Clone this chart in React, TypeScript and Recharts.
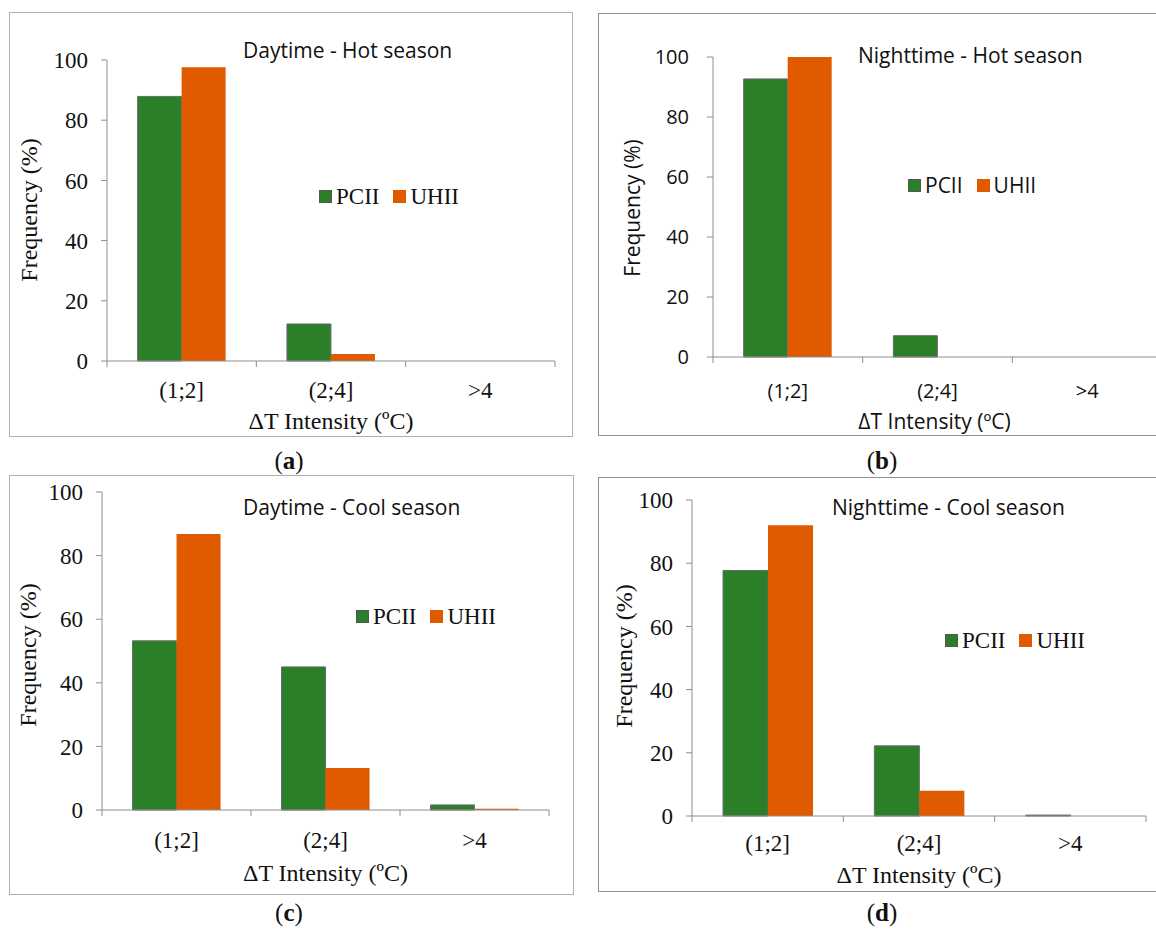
import React from 'react'
import { BarChart, Bar, XAxis, YAxis, Legend } from 'recharts'

// shared axes
const categories = ['(1;2]', '(2;4]', '>4']
const yTicks = [0, 20, 40, 60, 80, 100]

// frequency (%) per ΔT intensity class
const pciiDayHot = [87.9, 12.3, 0]
const uhiiDayHot = [97.6, 2.3, 0]
const pciiNightHot = [92.7, 7.1, 0]
const uhiiNightHot = [100, 0, 0]
const pciiDayCool = [53.2, 45.0, 1.6]
const uhiiDayCool = [86.8, 13.2, 0.4]
const pciiNightCool = [77.7, 22.2, 0.3]
const uhiiNightCool = [92.0, 8.0, 0]

const titles = ['Daytime - Hot season', 'Nighttime - Hot season', 'Daytime - Cool season', 'Nighttime - Cool season']
const captions = ['a', 'b', 'c', 'd']

const SERIF = '"Liberation Serif", "Times New Roman", serif'
const SANS = '"Open Sans", "Noto Sans", sans-serif'
const GREEN = '#2a7f28'
const ORANGE = '#e05a00'
const AXIS = '#8e8e8e'
const TEXT = '#111'

type Layout = {
  serif: boolean
  frameColor: string
  frame: { left: number; top: number; width: number; height: number }
  plot: { left: number; right: number; top: number; bottom: number }
  titlePos: [number, number]
  legendPos: [number, number]
  yLabelPos: [number, number]
  tickY: number
  axisTitleY: number
  captionPos: [number, number]
}

const layouts: Layout[] = [
  {
    serif: true, frameColor: '#b0b0b0',
    frame: { left: 9, top: 12, width: 564, height: 425 },
    plot: { left: 107, right: 555, top: 60, bottom: 361 },
    titlePos: [243, 50], legendPos: [319, 197], yLabelPos: [29, 210],
    tickY: 390, axisTitleY: 421, captionPos: [289, 460],
  },
  {
    serif: false, frameColor: '#8f8f8f',
    frame: { left: 598, top: 13, width: 600, height: 423 },
    plot: { left: 713, right: 1162, top: 57, bottom: 357 },
    titlePos: [858, 55], legendPos: [908, 187], yLabelPos: [632, 208],
    tickY: 390, axisTitleY: 421, captionPos: [882, 460],
  },
  {
    serif: true, frameColor: '#b0b0b0',
    frame: { left: 9, top: 475, width: 565, height: 420 },
    plot: { left: 102, right: 549, top: 492, bottom: 810 },
    titlePos: [243, 507], legendPos: [356, 617], yLabelPos: [28, 655],
    tickY: 840, axisTitleY: 873, captionPos: [289, 912],
  },
  {
    serif: true, frameColor: '#8f8f8f',
    frame: { left: 598, top: 477, width: 600, height: 415 },
    plot: { left: 692, right: 1146, top: 500, bottom: 816 },
    titlePos: [832, 507], legendPos: [945, 641], yLabelPos: [624, 656],
    tickY: 843, axisTitleY: 875, captionPos: [882, 912],
  },
]

const seriesSets = [
  [pciiDayHot, uhiiDayHot],
  [pciiNightHot, uhiiNightHot],
  [pciiDayCool, uhiiDayCool],
  [pciiNightCool, uhiiNightCool],
]

function Panel({ index }: { index: number }) {
  const l = layouts[index]
  const [pcii, uhii] = seriesSets[index]
  const font = l.serif ? SERIF : SANS
  const fontSize = l.serif ? 23 : 20
  const labelSize = l.serif ? 24 : 21
  const { frame, plot } = l
  const data = categories.map((name, i) => ({ name, PCII: pcii[i], UHII: uhii[i] }))

  const xAxisHeight = 30
  const margin = {
    top: plot.top - frame.top,
    right: frame.left + frame.width - plot.right,
    left: 0,
    bottom: frame.top + frame.height - plot.bottom - xAxisHeight,
  }
  const half = (plot.right - plot.left) / categories.length / 2
  const axisY = plot.bottom - frame.top

  // Excel style: tick marks sit on category boundaries
  const renderTick = (props: any) => {
    const { x, payload, index: i } = props
    const cx = payload && typeof payload.coordinate === 'number' ? payload.coordinate : x
    return (
      <g key={`t-${i}`}>
        <line x1={cx - half} x2={cx - half} y1={axisY} y2={axisY + 6} stroke={AXIS} />
        {i === categories.length - 1 && (
          <line x1={cx + half} x2={cx + half} y1={axisY} y2={axisY + 6} stroke={AXIS} />
        )}
        <text x={cx} y={axisY + (l.tickY - plot.bottom)} textAnchor="middle" dominantBaseline="central"
          fill={TEXT} fontFamily={font} fontSize={fontSize}>
          {payload.value}
        </text>
      </g>
    )
  }

  const renderLegend = (props: any) => (
    <div style={{ display: 'flex', alignItems: 'center', fontFamily: font, fontSize: l.serif ? 23 : 21, color: TEXT, whiteSpace: 'nowrap', lineHeight: 1 }}>
      {(props.payload || []).map((item: any, i: number) => (
        <div key={item.value} style={{ display: 'flex', alignItems: 'center', marginLeft: i ? 14 : 0 }}>
          <span style={{ display: 'inline-block', width: 13, height: 13, background: item.color, marginRight: 4, boxSizing: 'border-box', border: i === 0 ? '1px solid #555' : 'none' }} />
          <span>{item.value}</span>
        </div>
      ))}
    </div>
  )

  const textBase: React.CSSProperties = { position: 'absolute', whiteSpace: 'nowrap', lineHeight: 1, color: TEXT }

  return (
    <>
      <div style={{ position: 'absolute', left: frame.left, top: frame.top, width: frame.width, height: frame.height, border: `1px solid ${l.frameColor}`, boxSizing: 'border-box' }} />
      <div style={{ position: 'absolute', left: frame.left, top: frame.top }}>
        <BarChart width={frame.width} height={frame.height} data={data} margin={margin} barCategoryGap="20.5%" barGap={0}>
          <XAxis dataKey="name" height={xAxisHeight} interval={0} axisLine={{ stroke: AXIS }} tickLine={false} tick={renderTick} />
          <YAxis width={plot.left - frame.left} domain={[0, 100]} ticks={yTicks} interval={0}
            axisLine={{ stroke: AXIS }} tickLine={{ stroke: AXIS }} tickSize={6} tickMargin={l.serif ? 13 : 18}
            tick={{ fill: TEXT, fontFamily: font, fontSize }} />
          <Legend verticalAlign="middle" align="center" layout="horizontal" content={renderLegend}
            wrapperStyle={{ left: l.legendPos[0] - frame.left, top: l.legendPos[1] - frame.top - 12, width: 'auto', height: 24 }} />
          <Bar dataKey="PCII" fill={GREEN} stroke="#6a6a6a" strokeWidth={1} isAnimationActive={false} />
          <Bar dataKey="UHII" fill={ORANGE} isAnimationActive={false} />
        </BarChart>
      </div>
      <div style={{ ...textBase, left: l.titlePos[0], top: l.titlePos[1], transform: 'translateY(-50%)', fontFamily: SANS, fontSize: 21 }}>
        {titles[index]}
      </div>
      <div style={{ ...textBase, left: l.yLabelPos[0], top: l.yLabelPos[1], transform: 'translate(-50%, -50%) rotate(-90deg)', fontFamily: font, fontSize: labelSize }}>
        Frequency (%)
      </div>
      <div style={{ ...textBase, left: (plot.left + Math.min(plot.right, 1156)) / 2, top: l.axisTitleY, transform: 'translate(-50%, -50%)', fontFamily: font, fontSize: labelSize }}>
        ΔT Intensity (ºC)
      </div>
      <div style={{ ...textBase, left: l.captionPos[0], top: l.captionPos[1], transform: 'translate(-50%, -50%)', fontFamily: SERIF, fontSize: 25 }}>
        (<b>{captions[index]}</b>)
      </div>
    </>
  )
}

export default function App() {
  return (
    <div style={{ position: 'absolute', left: 0, top: 0, width: 1156, height: 931, overflow: 'hidden', background: '#fff' }}>
      {layouts.map((_, i) => (
        <Panel key={i} index={i} />
      ))}
    </div>
  )
}
